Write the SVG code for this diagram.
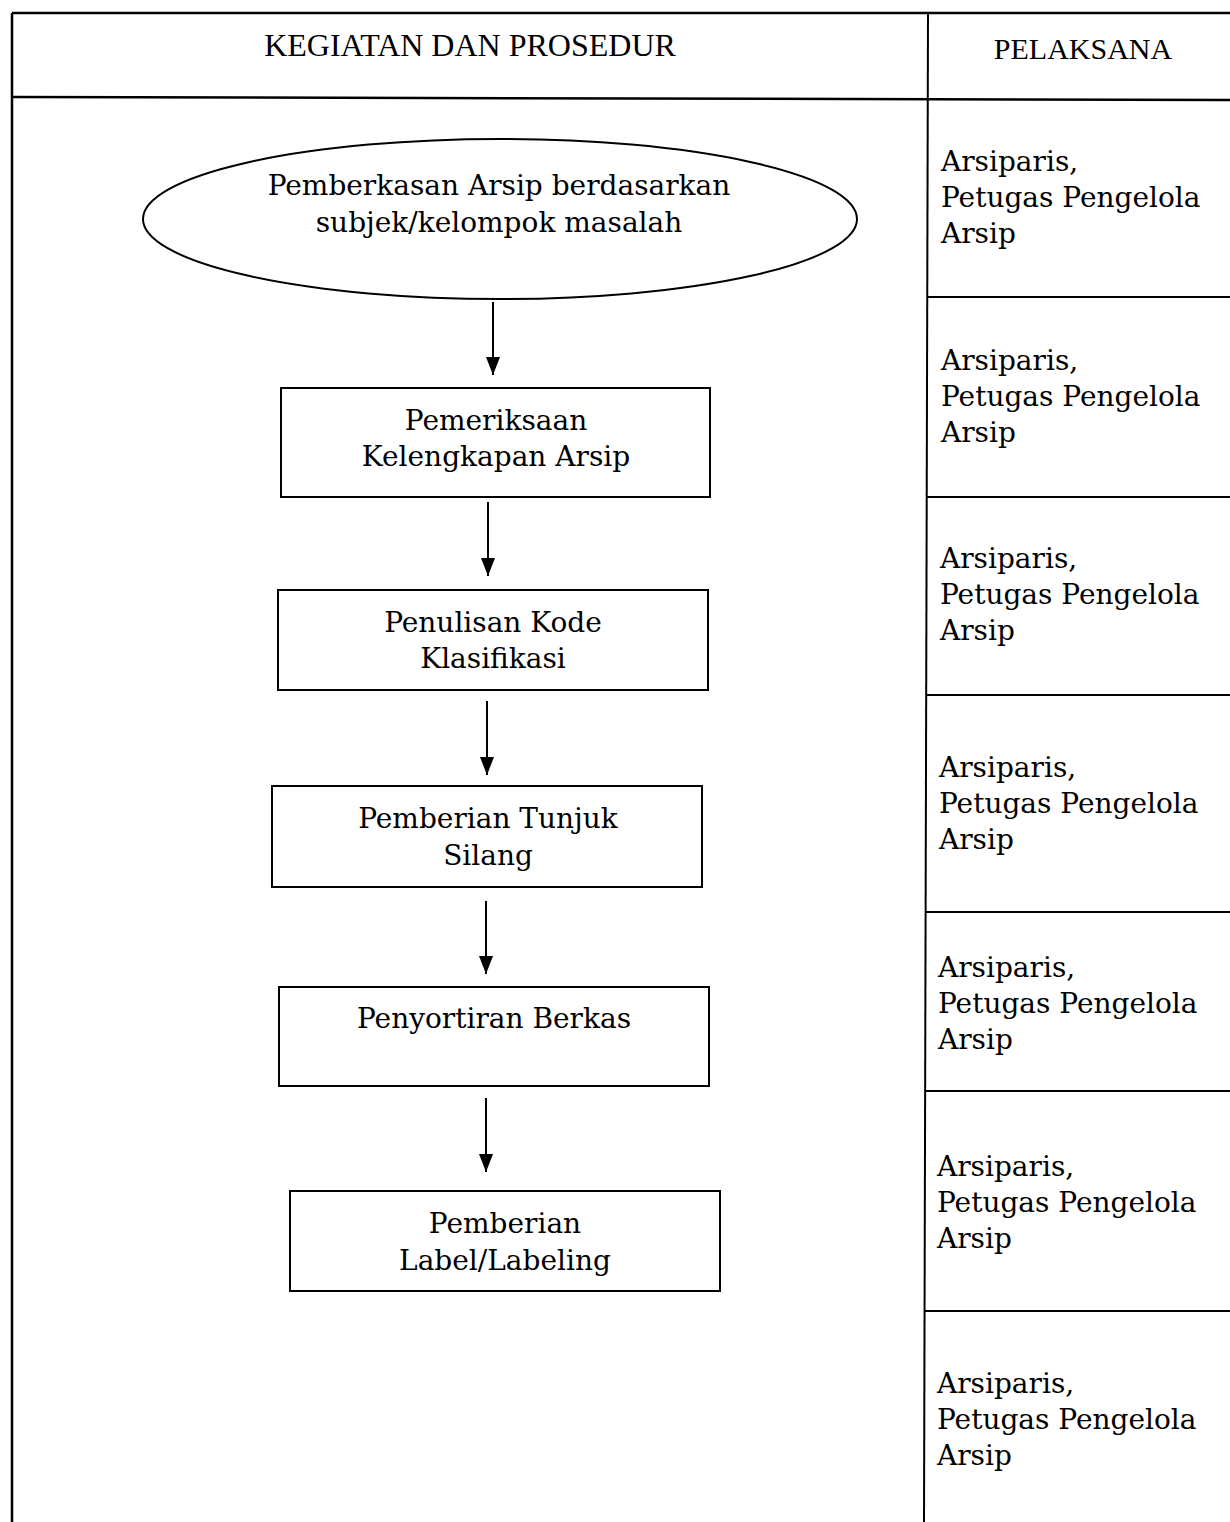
<svg xmlns="http://www.w3.org/2000/svg" width="1230" height="1522" viewBox="0 0 1230 1522">
<style>
.ln{stroke:#000;stroke-width:2;fill:none}
.tb{stroke:#000;stroke-width:2.5;fill:none}
.shape{stroke:#000;stroke-width:2;fill:#fff}
.hd{font-family:"Liberation Serif",serif;fill:#000;text-anchor:middle}
.tx{font-family:"DejaVu Serif",serif;font-size:28px;fill:#000;text-anchor:middle}
.rt{font-family:"DejaVu Serif",serif;font-size:28px;fill:#000}
</style>
<defs>
<marker id="ah" markerWidth="18" markerHeight="14" refX="18" refY="7" orient="auto" markerUnits="userSpaceOnUse" viewBox="0 0 18 14">
<path d="M0,0 L18,7 L0,14 Z" fill="#000"/>
</marker>
</defs>
<rect width="1230" height="1522" fill="#fff"/>
<g id="table">
<line class="tb" x1="12" y1="13" x2="1230" y2="13"/>
<line class="tb" x1="12" y1="13" x2="12" y2="1522"/>
<line class="tb" x1="12" y1="97" x2="1230" y2="100"/>
<line class="ln" x1="928" y1="13" x2="924" y2="1522"/>
<line class="ln" x1="928" y1="297" x2="1230" y2="297"/>
<line class="ln" x1="927" y1="497" x2="1230" y2="497"/>
<line class="ln" x1="927" y1="695" x2="1230" y2="695"/>
<line class="ln" x1="926" y1="912" x2="1230" y2="912"/>
<line class="ln" x1="926" y1="1091" x2="1230" y2="1091"/>
<line class="ln" x1="925" y1="1311" x2="1230" y2="1311"/>
<text class="hd" x="470" y="56" font-size="32">KEGIATAN DAN PROSEDUR</text>
<text class="hd" x="1083" y="59" font-size="30">PELAKSANA</text>
</g>
<g id="pelaksana">
<text class="rt" x="941" y="171">Arsiparis,<tspan x="941" dy="36">Petugas Pengelola</tspan><tspan x="941" dy="36">Arsip</tspan></text>
<text class="rt" x="941" y="370">Arsiparis,<tspan x="941" dy="36">Petugas Pengelola</tspan><tspan x="941" dy="36">Arsip</tspan></text>
<text class="rt" x="940" y="568">Arsiparis,<tspan x="940" dy="36">Petugas Pengelola</tspan><tspan x="940" dy="36">Arsip</tspan></text>
<text class="rt" x="939" y="777">Arsiparis,<tspan x="939" dy="36">Petugas Pengelola</tspan><tspan x="939" dy="36">Arsip</tspan></text>
<text class="rt" x="938" y="977">Arsiparis,<tspan x="938" dy="36">Petugas Pengelola</tspan><tspan x="938" dy="36">Arsip</tspan></text>
<text class="rt" x="937" y="1176">Arsiparis,<tspan x="937" dy="36">Petugas Pengelola</tspan><tspan x="937" dy="36">Arsip</tspan></text>
<text class="rt" x="937" y="1393">Arsiparis,<tspan x="937" dy="36">Petugas Pengelola</tspan><tspan x="937" dy="36">Arsip</tspan></text>
</g>
<g id="connectors">
<line class="ln" x1="493" y1="302" x2="493" y2="375" marker-end="url(#ah)"/>
<line class="ln" x1="488" y1="502" x2="488" y2="576" marker-end="url(#ah)"/>
<line class="ln" x1="487" y1="701" x2="487" y2="775" marker-end="url(#ah)"/>
<line class="ln" x1="486" y1="901" x2="486" y2="974" marker-end="url(#ah)"/>
<line class="ln" x1="486" y1="1098" x2="486" y2="1172" marker-end="url(#ah)"/>
</g>
<g id="n0">
<ellipse class="shape" cx="500" cy="219" rx="357" ry="80"/>
<text class="tx" x="499" y="195">Pemberkasan Arsip berdasarkan</text>
<text class="tx" x="499" y="232">subjek/kelompok masalah</text>
</g>
<g id="n1">
<rect class="shape" x="281" y="388" width="429" height="109"/>
<text class="tx" x="496" y="430">Pemeriksaan</text>
<text class="tx" x="496" y="466">Kelengkapan Arsip</text>
</g>
<g id="n2">
<rect class="shape" x="278" y="590" width="430" height="100"/>
<text class="tx" x="493" y="632">Penulisan Kode</text>
<text class="tx" x="493" y="668">Klasifikasi</text>
</g>
<g id="n3">
<rect class="shape" x="272" y="786" width="430" height="101"/>
<text class="tx" x="488" y="828">Pemberian Tunjuk</text>
<text class="tx" x="488" y="865">Silang</text>
</g>
<g id="n4">
<rect class="shape" x="279" y="987" width="430" height="99"/>
<text class="tx" x="494" y="1028">Penyortiran Berkas</text>
</g>
<g id="n5">
<rect class="shape" x="290" y="1191" width="430" height="100"/>
<text class="tx" x="505" y="1233">Pemberian</text>
<text class="tx" x="505" y="1270">Label/Labeling</text>
</g>
</svg>
